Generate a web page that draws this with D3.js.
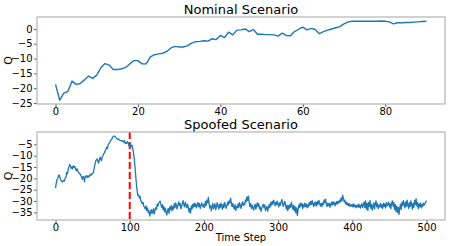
<!DOCTYPE html>
<html lang="en">
<head>
<meta charset="UTF-8">
<title>Nominal vs Spoofed Scenario</title>
<script src="https://d3js.org/d3.v7.min.js"></script>
<style>
    body { margin: 0; background: #fff; }
    text { font-family: "DejaVu Sans", sans-serif; fill: #000; }
</style>
</head>
<body>
<script>
    // Q over time
    const nominalQ = [
        -18.7, -24.0, -21.7, -21.1, -17.6, -18.7, -18.4, -17.2, -15.9, -16.7,
        -15.6, -13.1, -11.7, -12.2, -13.7, -13.7, -13.5, -13.0, -11.8, -10.7,
        -10.7, -11.8, -11.8, -9.4, -8.7, -8.4, -8.2, -7.6, -6.4, -5.9,
        -6.1, -6.1, -5.7, -4.8, -4.3, -4.2, -4.0, -4.1, -3.3, -3.6,
        -2.2, -2.9, -1.1, -2.0, -0.4, -0.3, 0.0, -0.9, -0.2, -1.8,
        -1.8, -1.9, -1.9, -2.0, -2.4, -1.4, -2.2, -2.3, -0.9, -0.1,
        0.6, -0.3, 0.2, -0.2, -1.6, -0.9, -0.4, 0.0, 0.4, 0.8,
        1.7, 2.4, 2.6, 2.6, 2.6, 2.6, 2.6, 2.6, 2.6, 2.7,
        2.6, 2.4, 1.7, 2.1, 2.1, 2.2, 2.2, 2.3, 2.4, 2.5,
        2.6
    ];

    const spoofedQ = [
        -24.3, -22.0, -20.5, -20.0, -18.8, -18.5, -19.6, -20.8, -21.0, -21.6, -21.4, -20.8, -21.2, -19.9, -19.5, -17.4, -18.0, -16.2, -15.0, -13.8,
        -14.5, -15.6, -14.9, -15.8, -14.4, -15.1, -14.8, -15.9, -16.6, -15.7, -16.8, -17.2, -17.9, -18.0, -18.6, -19.3, -20.4, -19.1, -19.6, -21.5,
        -19.0, -19.3, -18.8, -19.6, -18.9, -19.4, -18.7, -18.2, -18.6, -17.9, -18.0, -17.3, -15.6, -13.9, -12.6, -11.8, -11.4, -12.4, -13.3, -12.0,
        -10.6, -11.5, -12.2, -10.4, -9.9, -9.1, -8.7, -7.7, -7.2, -6.2, -6.8, -5.0, -4.7, -4.2, -3.4, -3.0, -2.6, -1.8, -1.5, -1.3,
        -1.5, -1.9, -2.3, -2.5, -2.8, -2.6, -3.1, -3.2, -3.4, -3.3, -3.7, -3.5, -4.0, -3.3, -4.7, -4.2, -4.5, -3.8, -4.5, -5.6,
        -5.4, -5.0, -6.0, -5.3, -6.6, -8.4, -11.2, -14.3, -18.6, -22.4, -25.5, -27.6, -27.2, -28.7, -28.0, -29.8, -30.6, -31.2, -30.6, -32.3,
        -32.8, -33.5, -32.1, -34.2, -33.0, -35.1, -34.3, -36.6, -35.0, -33.8, -35.5, -34.6, -33.4, -35.8, -34.0, -32.9, -33.7, -31.4, -32.2, -30.9,
        -30.5, -30.0, -31.5, -32.8, -31.6, -33.9, -32.4, -34.7, -33.1, -35.2, -36.2, -34.0, -33.3, -35.5, -32.6, -33.8, -31.9, -34.4, -32.5, -33.6,
        -31.2, -32.9, -30.8, -32.2, -33.5, -31.6, -30.4, -32.0, -31.1, -33.4, -32.3, -30.9, -29.8, -31.7, -32.6, -30.5, -31.9, -33.0, -31.4, -32.8,
        -34.9, -33.2, -35.3, -32.1, -33.6, -31.5, -32.7, -30.9, -32.4, -31.2, -33.0, -31.8, -30.6, -32.5, -31.1, -33.3, -32.0, -30.8, -31.9, -32.7,
        -31.4, -32.8, -30.2, -31.9, -29.6, -30.8, -28.4, -31.3, -33.1, -32.0, -34.2, -32.6, -31.0, -33.5, -32.3, -31.2, -33.8, -32.1, -30.7, -32.4,
        -33.6, -31.5, -32.9, -30.9, -32.2, -33.7, -31.4, -32.8, -30.6, -31.9, -33.2, -32.0, -30.5, -31.7, -29.9, -30.8, -28.7, -31.2, -32.5, -31.0,
        -32.7, -33.5, -31.6, -34.1, -32.4, -33.0, -31.3, -32.9, -30.7, -31.8, -33.2, -31.5, -30.4, -32.0, -30.9, -31.6, -29.5, -30.3, -28.2, -29.7,
        -27.8, -30.6, -32.4, -31.1, -33.3, -31.8, -32.9, -34.0, -32.2, -31.4, -33.6, -32.1, -30.8, -32.5, -31.2, -33.4, -32.7, -34.6, -33.1, -32.0,
        -31.5, -33.0, -31.7, -34.2, -33.4, -32.3, -34.5, -32.8, -31.6, -32.9, -30.7, -31.8, -30.2, -31.4, -29.6, -30.9, -32.1, -30.5, -31.7, -30.0,
        -31.3, -32.6, -30.8, -31.9, -30.4, -29.3, -31.0, -32.4, -31.2, -30.1, -31.6, -33.5, -31.8, -34.2, -32.0, -33.3, -31.5, -32.8, -30.6, -32.2,
        -33.7, -31.9, -34.4, -32.5, -35.2, -33.0, -36.3, -33.8, -31.7, -32.9, -30.8, -32.1, -31.0, -33.4, -31.6, -32.7, -30.9, -32.3, -31.2, -33.0,
        -31.7, -32.6, -30.6, -31.8, -30.2, -31.5, -29.8, -31.2, -32.4, -30.7, -31.9, -30.4, -32.1, -30.3, -31.4, -29.7, -30.9, -32.2, -31.0, -32.5,
        -30.8, -31.6, -29.5, -30.7, -29.2, -31.3, -32.4, -30.9, -32.0, -31.1, -32.8, -31.2, -30.5, -31.9, -30.3, -31.5, -30.6, -32.1, -31.0, -30.2,
        -31.4, -30.1, -30.9, -29.6, -30.4, -28.6, -29.9, -27.4, -28.8, -30.3, -29.6, -31.2, -30.5, -31.8, -30.9, -32.0, -31.1, -32.4, -31.6, -32.2,
        -31.5, -32.7, -31.3, -32.5, -31.8, -33.0, -31.9, -32.6, -31.4, -32.8, -31.7, -33.1, -32.0, -31.2, -32.9, -31.6, -30.4, -32.8, -29.9, -33.6,
        -31.0, -34.1, -30.6, -32.4, -29.8, -33.2, -31.5, -34.0, -32.2, -30.7, -33.5, -31.4, -29.9, -32.6, -31.1, -33.3, -31.8, -32.5, -31.0, -32.9,
        -31.6, -33.2, -30.9, -32.4, -31.3, -33.0, -30.7, -32.1, -31.5, -30.4, -32.6, -31.2, -33.4, -31.0, -29.9, -32.3, -30.6, -33.8, -31.5, -34.6,
        -32.2, -35.0, -32.8, -35.9, -33.1, -31.4, -33.7, -30.5, -32.0, -29.8, -31.6, -33.0, -30.4, -32.3, -29.6, -31.8, -33.2, -30.7, -32.5, -29.9,
        -31.4, -33.6, -31.0, -32.8, -29.7, -31.5, -28.9, -32.2, -30.6, -33.4, -31.3, -32.6, -30.8, -33.0, -31.5, -32.3, -30.9, -31.8, -31.2, -30.5,
        -29.8
    ];

    const spoofStep = 100;

    const nominalXTicks = [0, 20, 40, 60, 80];
    const nominalYTicks = [0, -5, -10, -15, -20, -25];
    const spoofedXTicks = [0, 100, 200, 300, 400, 500];
    const spoofedYTicks = [-5, -10, -15, -20, -25, -30, -35];

    const width = 450, height = 246;
    const left = 37, right = 445;
    const blue = "#1f77b4";

    const svg = d3.select("body").append("svg")
        .attr("width", width)
        .attr("height", height);

    // matplotlib-like 5% padding around data
    function padded(lo, hi) {
        const m = (hi - lo) * 0.05;
        return [lo - m, hi + m];
    }

    function panel(opt) {
        const x = d3.scaleLinear()
            .domain(padded(0, opt.values.length - 1))
            .range([left, right]);
        const y = d3.scaleLinear()
            .domain(padded(d3.min(opt.values), d3.max(opt.values)))
            .range([opt.bottom, opt.top]);

        const g = svg.append("g");

        g.append("text")
            .attr("x", (left + right) / 2)
            .attr("y", opt.top - 3)
            .attr("text-anchor", "middle")
            .style("font-size", "13px")
            .text(opt.title);

        const xAxis = g.append("g")
            .attr("transform", `translate(0,${opt.bottom})`)
            .call(d3.axisBottom(x).tickValues(opt.xTicks).tickSize(3).tickPadding(1).tickFormat(d3.format("d")));
        const yAxis = g.append("g")
            .attr("transform", `translate(${left},0)`)
            .call(d3.axisLeft(y).tickValues(opt.yTicks).tickSize(3).tickPadding(1.5)
                .tickFormat(d => d3.format("d")(d).replace("-", "\u2212")));

        [xAxis, yAxis].forEach(a => {
            a.select(".domain").remove();
            a.selectAll(".tick line").attr("stroke", "#333").attr("stroke-width", 0.8);
            a.selectAll(".tick text")
                .style("font-size", "10px")
                .style("font-family", "'DejaVu Sans', sans-serif")
                .attr("fill", "#000");
        });

        // the spoof onset marker
        if (opt.marker != null) {
            g.append("line")
                .attr("x1", x(opt.marker)).attr("x2", x(opt.marker))
                .attr("y1", opt.top).attr("y2", opt.bottom)
                .attr("stroke", "#ff0000")
                .attr("stroke-width", 2)
                .attr("stroke-dasharray", "7,3");
        }

        g.append("path")
            .datum(opt.values)
            .attr("fill", "none")
            .attr("stroke", blue)
            .attr("stroke-width", opt.lw)
            .attr("stroke-linejoin", "round")
            .attr("d", d3.line().x((d, i) => x(i)).y(d => y(d)));

        g.append("rect")
            .attr("x", left).attr("y", opt.top)
            .attr("width", right - left).attr("height", opt.bottom - opt.top)
            .attr("fill", "none")
            .attr("stroke", "#b5b5b5")
            .attr("stroke-width", 1.2);

        g.append("text")
            .attr("transform", `translate(11.5,${(opt.top + opt.bottom) / 2}) rotate(-90)`)
            .attr("text-anchor", "middle")
            .style("font-size", "11px")
            .text("Q");
    }

    panel({ title: "Nominal Scenario", values: nominalQ, top: 17, bottom: 104,
        xTicks: nominalXTicks, yTicks: nominalYTicks, lw: 1.4 });
    panel({ title: "Spoofed Scenario", values: spoofedQ, top: 132, bottom: 220,
        xTicks: spoofedXTicks, yTicks: spoofedYTicks, lw: 1.3, marker: spoofStep });

    svg.append("text")
        .attr("x", (left + right) / 2)
        .attr("y", 240.5)
        .attr("text-anchor", "middle")
        .style("font-size", "10px")
        .text("Time Step");
</script>
</body>
</html>
